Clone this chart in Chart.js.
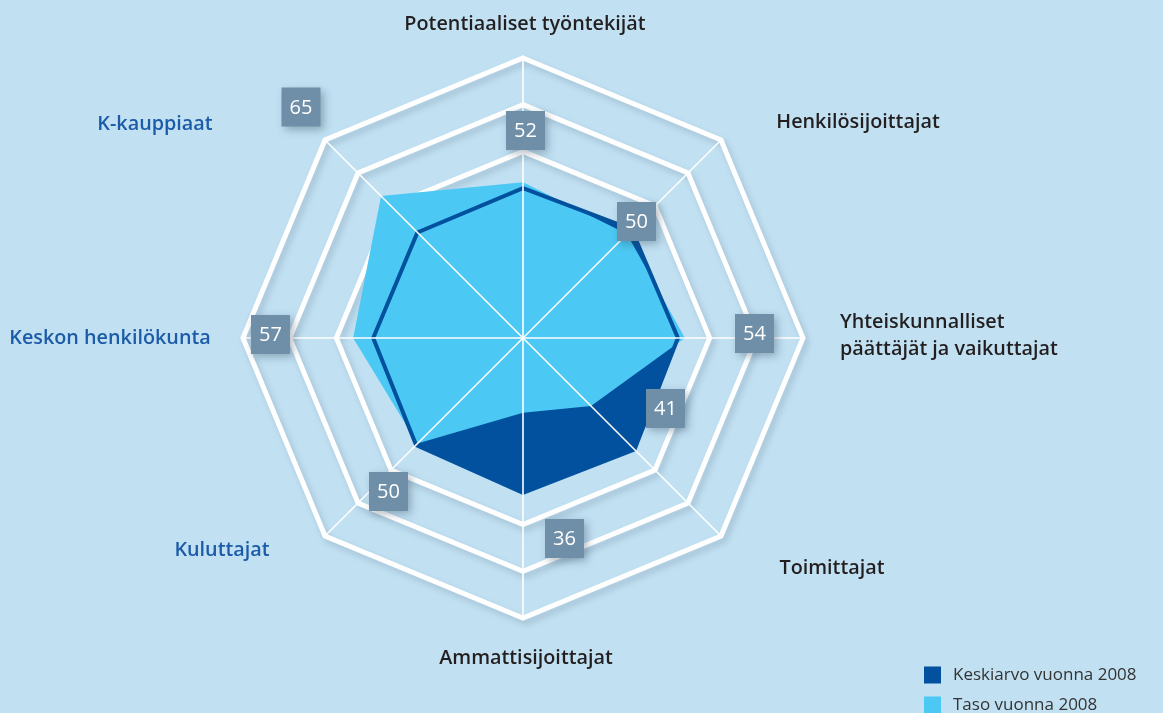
<!DOCTYPE html>
<html>
<head>
<meta charset="utf-8">
<script src="https://cdn.jsdelivr.net/npm/chart.js@4.4.1/dist/chart.umd.min.js"></script>
<style>
html,body{margin:0;padding:0;background:#c1e1f3;}
canvas{display:block;}
</style>
</head>
<body>
<canvas id="c" width="1163" height="713"></canvas>
<script>
// ---- data ----
const categories = [
  "Potentiaaliset työntekijät",
  "Henkilösijoittajat",
  ["Yhteiskunnalliset", "päättäjät ja vaikuttajat"],
  "Toimittajat",
  "Ammattisijoittajat",
  "Kuluttajat",
  "Keskon henkilökunta",
  "K-kauppiaat"
];
const seriesNames = ["Keskiarvo vuonna 2008", "Taso vuonna 2008"];
const keskiarvo2008 = [32.1, 32.9, 33.2, 33.8, 33.2, 32.4, 32.1, 32.0];
const taso2008 = [33.4, 31.5, 34.7, 20.6, 16.0, 32.0, 36.4, 43.0];
const scoreLabels = [52, 50, 54, 41, 36, 50, 57, 65];
const ringTicks = [40, 50, 60];

// ---- styles / layout (not data) ----
const DARK = '#02519e';
const LIGHT = '#4bc8f3';
const BOXC = '#6f8ea8';
const TEXT_DARK = '#231f20';
const TEXT_BLUE = '#1b5ba7';
const labelStyle = [
  {dx: 2, dy: -314, align: 'center', color: TEXT_DARK},
  {dx: 335, dy: -216, align: 'center', color: TEXT_DARK},
  {dx: 317, dy: -2, align: 'left', color: TEXT_DARK},
  {dx: 309, dy: 230, align: 'center', color: TEXT_DARK},
  {dx: 3, dy: 320, align: 'center', color: TEXT_DARK},
  {dx: -301, dy: 212, align: 'center', color: TEXT_BLUE},
  {dx: -413, dy: 0, align: 'center', color: TEXT_BLUE},
  {dx: -368, dy: -214, align: 'center', color: TEXT_BLUE}
];
const boxOffsets = [
  [2.5, -207.5], [113.5, -116.5], [231.5, -4.5], [142.5, 70.5],
  [41.5, 200.5], [-134.5, 153.5], [-252.5, -3.5], [-222, -231]
];
const FONT = '"Open Sans", "Noto Sans", sans-serif';

const decor = {
  id: 'decor',
  beforeDraw(chart) {
    const ctx = chart.ctx;
    const s = chart.scales.r;
    ctx.save();
    ctx.fillStyle = '#c1e1f3';
    ctx.fillRect(0, 0, chart.width, chart.height);
    // soft shadows of the rings
    ctx.filter = 'blur(3px)';
    ctx.strokeStyle = 'rgba(90,110,130,0.3)';
    ctx.lineWidth = 5;
    ringTicks.forEach(v => {
      const d = s.getDistanceFromCenterForValue(v);
      ctx.beginPath();
      for (let i = 0; i < categories.length; i++) {
        const p = s.getPointPosition(i, d);
        if (i === 0) ctx.moveTo(p.x + 3, p.y + 4); else ctx.lineTo(p.x + 3, p.y + 4);
      }
      ctx.closePath();
      ctx.stroke();
    });
    ctx.restore();
  },
  afterDatasetsDraw(chart) {
    const ctx = chart.ctx;
    const s = chart.scales.r;
    const outer = s.getDistanceFromCenterForValue(s.max);
    ctx.save();
    // spokes on top of the areas
    ctx.strokeStyle = '#ffffff';
    ctx.lineWidth = 1.6;
    for (let i = 0; i < categories.length; i++) {
      const p = s.getPointPosition(i, outer);
      ctx.beginPath();
      ctx.moveTo(s.xCenter, s.yCenter);
      ctx.lineTo(p.x, p.y);
      ctx.stroke();
    }
    // score boxes
    const size = 39;
    scoreLabels.forEach((v, i) => {
      const cx = s.xCenter + boxOffsets[i][0];
      const cy = s.yCenter + boxOffsets[i][1];
      ctx.save();
      ctx.shadowColor = 'rgba(40,60,80,0.35)';
      ctx.shadowBlur = 8;
      ctx.shadowOffsetX = 3;
      ctx.shadowOffsetY = 3;
      ctx.fillStyle = BOXC;
      ctx.fillRect(cx - size / 2, cy - size / 2, size, size);
      ctx.restore();
      ctx.fillStyle = '#ffffff';
      ctx.font = '500 20px ' + FONT;
      ctx.textAlign = 'center';
      ctx.textBaseline = 'middle';
      ctx.fillText(String(v), cx, cy + 1);
    });
    ctx.restore();
  },
  afterDraw(chart) {
    const ctx = chart.ctx;
    const s = chart.scales.r;
    ctx.save();
    ctx.font = '600 19.8px ' + FONT;
    ctx.textBaseline = 'middle';
    categories.forEach((lab, i) => {
      const st = labelStyle[i];
      const lines = Array.isArray(lab) ? lab : [lab];
      ctx.fillStyle = st.color;
      ctx.textAlign = st.align;
      const lh = 27;
      const y0 = s.yCenter + st.dy - (lines.length - 1) * lh / 2;
      lines.forEach((t, k) => ctx.fillText(t, s.xCenter + st.dx, y0 + k * lh));
    });
    // legend
    ctx.font = '400 17px ' + FONT;
    ctx.textAlign = 'left';
    chart.data.datasets.filter(d => d.label).forEach((d, k) => {
      const y = 675 + k * 30;
      ctx.fillStyle = d.legendColor;
      ctx.fillRect(924, y - 8.5, 17, 17);
      ctx.fillStyle = '#333333';
      ctx.fillText(d.label, 953, y);
    });
    ctx.restore();
  }
};

new Chart(document.getElementById('c'), {
  type: 'radar',
  data: {
    labels: categories,
    datasets: [
      {
        label: seriesNames[0],
        legendColor: DARK,
        data: keskiarvo2008,
        backgroundColor: DARK,
        borderColor: DARK,
        borderWidth: 4,
        borderJoinStyle: 'miter',
        fill: true,
        pointRadius: 0,
        order: 2
      },
      {
        label: seriesNames[1],
        legendColor: LIGHT,
        data: taso2008,
        backgroundColor: LIGHT,
        borderColor: LIGHT,
        borderWidth: 0,
        fill: true,
        pointRadius: 0,
        order: 1
      }
    ]
  },
  options: {
    responsive: false,
    animation: false,
    devicePixelRatio: 1,
    layout: {padding: {left: 243, right: 360, top: 58, bottom: 95}},
    plugins: {
      legend: {display: false},
      tooltip: {enabled: false},
      filler: {drawTime: 'beforeDatasetsDraw'}
    },
    scales: {
      r: {
        min: 0,
        max: 60,
        afterBuildTicks: sc => { sc.ticks = [0, ...ringTicks].map(v => ({value: v})); },
        ticks: {display: false},
        grid: {color: '#ffffff', lineWidth: 5, circular: false},
        angleLines: {display: false},
        pointLabels: {display: false}
      }
    }
  },
  plugins: [decor]
});
</script>
</body>
</html>
